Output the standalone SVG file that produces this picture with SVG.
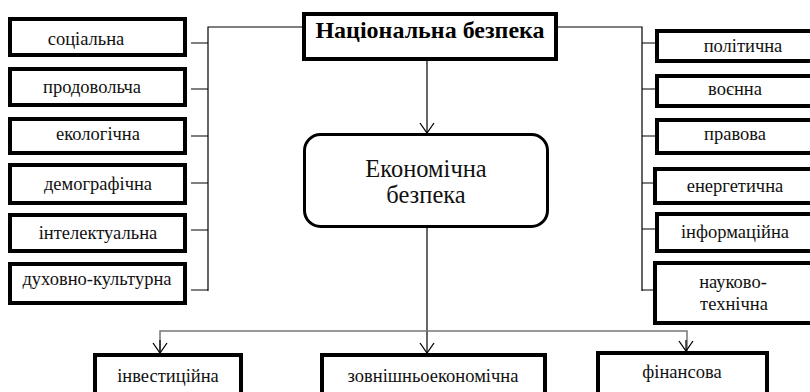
<svg xmlns="http://www.w3.org/2000/svg" width="810" height="392" viewBox="0 0 810 392">
<style>
.box{fill:#fff;stroke:#000;stroke-width:4}
.rbox{fill:#fff;stroke:#000;stroke-width:3}
.t{font-family:"Liberation Serif","Times New Roman",serif;font-size:18.5px;fill:#111;text-anchor:middle}
.title{font-family:"Liberation Serif","Times New Roman",serif;font-size:24px;font-weight:bold;fill:#000;text-anchor:middle}
.big{font-family:"Liberation Serif","Times New Roman",serif;font-size:24.5px;fill:#111;text-anchor:middle}
.c{fill:none;stroke:#000;stroke-width:1.2}
.g{fill:none;stroke:#777;stroke-width:1.5}
</style>
<defs>
<marker id="arr" viewBox="0 0 12 16" refX="11" refY="8" markerWidth="12" markerHeight="16" markerUnits="userSpaceOnUse" orient="auto">
<path d="M1,1 L11,8 L1,15" fill="none" stroke="#000" stroke-width="1.3"/>
</marker>
</defs>
<g id="connectors">
<path class="c" d="M302,27 H208 V291"/>
<path class="c" d="M191,43 H208 M191,89 H208 M191,136 H208 M191,183 H208 M191,230 H208 M191,290 H208"/>
<path class="c" d="M558,27 H642 V291"/>
<path class="c" d="M642,43 H656 M642,89 H656 M642,136 H656 M642,183 H656 M642,229 H656 M642,290 H656"/>
<path class="c" d="M427,61 V133" marker-end="url(#arr)"/>
<path class="c" d="M427,228 V353" marker-end="url(#arr)"/>
<path class="g" d="M160,352 V331 H687 V351"/>
<path class="c" d="M160,340 V353" marker-end="url(#arr)"/>
<path class="c" d="M686,340 V351" marker-end="url(#arr)"/>
</g>
<g id="n-title"><rect class="box" x="304" y="14" width="252" height="45"/><text class="title" x="430" y="38">Національна безпека</text></g>
<g id="n-econ"><rect class="rbox" x="304.5" y="134.5" width="243" height="92" rx="16"/><text class="big" x="426" y="177">Економічна</text><text class="big" x="426" y="203">безпека</text></g>
<g id="n-l1"><rect class="box" x="10" y="19" width="175" height="36"/><text class="t" x="86" y="45">соціальна</text></g>
<g id="n-l2"><rect class="box" x="10" y="69" width="175" height="36"/><text class="t" x="92" y="93">продовольча</text></g>
<g id="n-l3"><rect class="box" x="10" y="119" width="175" height="34"/><text class="t" x="98" y="140">екологічна</text></g>
<g id="n-l4"><rect class="box" x="10" y="165" width="175" height="38"/><text class="t" x="98" y="190">демографічна</text></g>
<g id="n-l5"><rect class="box" x="10" y="215" width="175" height="36"/><text class="t" x="98" y="239">інтелектуальна</text></g>
<g id="n-l6"><rect class="box" x="10" y="264" width="175" height="39"/><text class="t" x="97" y="285">духовно-культурна</text></g>
<g id="n-r1"><rect class="box" x="657" y="31" width="160" height="30"/><text class="t" x="743" y="52">політична</text></g>
<g id="n-r2"><rect class="box" x="657" y="76" width="160" height="30"/><text class="t" x="735" y="95">воєнна</text></g>
<g id="n-r3"><rect class="box" x="657" y="120" width="160" height="33"/><text class="t" x="735" y="140">правова</text></g>
<g id="n-r4"><rect class="box" x="655" y="169" width="162" height="34"/><text class="t" x="735" y="192">енергетична</text></g>
<g id="n-r5"><rect class="box" x="657" y="214" width="160" height="37"/><text class="t" x="735" y="238">інформаційна</text></g>
<g id="n-r6"><rect class="box" x="655" y="263" width="162" height="60"/><text class="t" x="733" y="288">науково-</text><text class="t" x="734" y="310">технічна</text></g>
<g id="n-b1"><rect class="box" x="95" y="355" width="146" height="50"/><text class="t" x="168" y="382">інвестиційна</text></g>
<g id="n-b2"><rect class="box" x="322" y="355" width="223" height="50"/><text class="t" x="433" y="382">зовнішньоекономічна</text></g>
<g id="n-b3"><rect class="box" x="598" y="353" width="169" height="50"/><text class="t" x="682" y="378">фінансова</text></g>
</svg>
